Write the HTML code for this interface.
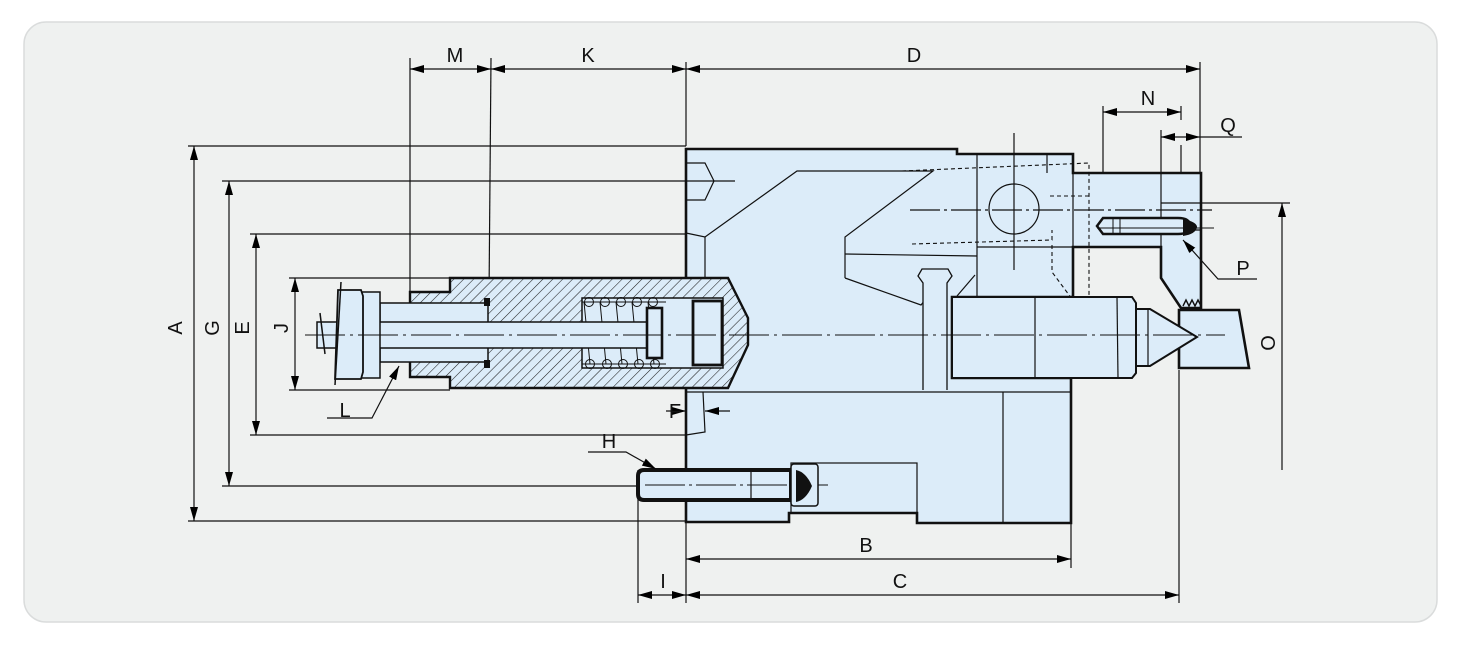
<!DOCTYPE html>
<html><head><meta charset="utf-8"><style>
html,body{margin:0;padding:0;background:#fff;}
svg{display:block;}
text{font-family:"Liberation Sans",sans-serif;font-size:20px;fill:#111;}
</style></head><body>
<svg width="1461" height="658" viewBox="0 0 1461 658" xmlns="http://www.w3.org/2000/svg">
<defs>
<marker id="ar" viewBox="0 0 14 8" refX="14" refY="4" markerWidth="14" markerHeight="8" markerUnits="userSpaceOnUse" orient="auto-start-reverse">
<path d="M0,0 L14,4 L0,8 z" fill="#000"/></marker>
<pattern id="hat" width="7" height="7" patternUnits="userSpaceOnUse" patternTransform="rotate(45)">
<rect width="7" height="7" fill="#dcecf9"/><line x1="0" y1="0" x2="0" y2="7" stroke="#222" stroke-width="1.1"/></pattern>
</defs>
<rect x="24" y="22" width="1413" height="600" rx="22" fill="#eff1f0" stroke="#dadcdc" stroke-width="1.5"/>

<g stroke="#111" stroke-width="1.2" fill="none">
<line x1="188" y1="146" x2="686" y2="146"/>
<line x1="222" y1="181" x2="735" y2="181"/>
<line x1="250" y1="234" x2="686" y2="234"/>
<line x1="289" y1="278" x2="450" y2="278"/>
<line x1="289" y1="390" x2="450" y2="390"/>
<line x1="250" y1="435" x2="686" y2="435"/>
<line x1="222" y1="486" x2="638" y2="486"/>
<line x1="188" y1="521" x2="686" y2="521"/>
<line x1="194" y1="146" x2="194" y2="521" marker-start="url(#ar)" marker-end="url(#ar)"/>
<line x1="229" y1="181" x2="229" y2="486" marker-start="url(#ar)" marker-end="url(#ar)"/>
<line x1="256" y1="234" x2="256" y2="435" marker-start="url(#ar)" marker-end="url(#ar)"/>
<line x1="295" y1="278" x2="295" y2="390" marker-start="url(#ar)" marker-end="url(#ar)"/>
<line x1="410" y1="58" x2="410" y2="292"/>
<line x1="491" y1="58" x2="489" y2="298"/>
<line x1="686" y1="62" x2="686" y2="146"/>
<line x1="1200" y1="62" x2="1200" y2="173"/>
<line x1="410" y1="69" x2="491" y2="69" marker-start="url(#ar)" marker-end="url(#ar)"/>
<line x1="491" y1="69" x2="686" y2="69" marker-start="url(#ar)" marker-end="url(#ar)"/>
<line x1="686" y1="69" x2="1200" y2="69" marker-start="url(#ar)" marker-end="url(#ar)"/>
<line x1="1103" y1="106" x2="1103" y2="225"/>
<line x1="1181" y1="106" x2="1181" y2="120"/>
<line x1="1103" y1="112" x2="1181" y2="112" marker-start="url(#ar)" marker-end="url(#ar)"/>
<line x1="1161" y1="130" x2="1161" y2="210"/>
<line x1="1181" y1="145" x2="1181" y2="245"/>
<line x1="1161" y1="137" x2="1200" y2="137" marker-start="url(#ar)" marker-end="url(#ar)"/>
<line x1="1200" y1="137" x2="1242" y2="137"/>
<line x1="1161" y1="203" x2="1290" y2="203"/>
<line x1="1282" y1="203" x2="1282" y2="470" marker-start="url(#ar)"/>
<line x1="638" y1="470" x2="638" y2="603"/>
<line x1="686" y1="522" x2="686" y2="603"/>
<line x1="1071" y1="523" x2="1071" y2="568"/>
<line x1="1179" y1="370" x2="1179" y2="603"/>
<line x1="686" y1="559" x2="1071" y2="559" marker-start="url(#ar)" marker-end="url(#ar)"/>
<line x1="686" y1="595" x2="1179" y2="595" marker-start="url(#ar)" marker-end="url(#ar)"/>
<line x1="638" y1="595" x2="686" y2="595" marker-start="url(#ar)" marker-end="url(#ar)"/>
</g>

<path d="M686,149 H957 V154 H1073 V173 H1201 V308 H1181 L1161,278 V247 H1073 V297 H952 V378 H1071 V523 H917 V513 H789 V522 H686 Z" fill="#dcecf9" stroke="#111" stroke-width="2.6"/>
<g stroke="#111" stroke-width="1.2" fill="none">
<path d="M686,163 H705 L714,181 L705,200 H686"/>
<line x1="686" y1="181" x2="735" y2="181"/>
<path d="M686,233 L705,237 L797,171 H933 L845,237 V278"/>
<line x1="705" y1="237" x2="705" y2="278"/>
<path d="M845,254 L977,256"/>
<path d="M845,278 L921,305 L925,300"/>
<path d="M957,296 L975,275"/>
<line x1="977" y1="154" x2="977" y2="297"/>
<line x1="1073" y1="173" x2="1073" y2="247"/>
<line x1="977" y1="247" x2="1073" y2="247"/>
<line x1="1047" y1="154" x2="1047" y2="173"/>
<ellipse cx="1014" cy="209" rx="25" ry="25"/>
<line x1="1014" y1="133" x2="1014" y2="270"/>
<line x1="910" y1="210" x2="1212" y2="210" stroke-dasharray="30,4,3,4"/>
<line x1="686" y1="392" x2="1071" y2="392"/>
<line x1="1003" y1="392" x2="1003" y2="523"/>
<path d="M686,435 L705,432 L703,392"/>
<line x1="1161" y1="173" x2="1161" y2="247"/>
<line x1="1161" y1="203" x2="1201" y2="203"/>
<line x1="1181" y1="230" x2="1201" y2="230"/>
<rect x="791" y="463" width="126" height="50"/>
</g>
<g stroke="#111" stroke-width="1.1" fill="none" stroke-dasharray="4,3">
<path d="M902,171 L1089,163 V297"/>
<path d="M1050,196 H1089"/>
<path d="M912,244 L1052,240 V230"/>
<path d="M1052,245 V272 L1075,303"/>
</g>

<!-- workpiece -->
<path d="M1179,310 H1239 L1249,368 H1179 Z" fill="#dcecf9" stroke="#111" stroke-width="2.6"/>
<path d="M1183,306 l3,-6 l3,6 l3,-6 l3,6 l3,-6 l3,6" stroke="#111" stroke-width="1.4" fill="none"/>
<!-- spindle / live center -->
<path d="M952,297 H1132 L1136,303 V373 L1132,378 H952 Z" fill="#dcecf9" stroke="#111" stroke-width="2"/>
<g stroke="#111" stroke-width="1.2" fill="none">
<line x1="1035" y1="297" x2="1035" y2="378"/>
<line x1="1117" y1="297" x2="1118" y2="378"/>
</g>
<path d="M1136,309 H1150 L1197,337 L1150,366 H1136 Z" fill="#dcecf9" stroke="#111" stroke-width="2"/>
<line x1="1148" y1="309" x2="1148" y2="366" stroke="#111" stroke-width="1.2"/>
<!-- key pin -->
<path d="M923,390 V283 L918,276 L922,269 H948 L952,276 L947,283 V390" fill="#dcecf9" stroke="#111" stroke-width="1.3"/>

<!-- quill hatched -->
<path d="M410,292 H450 V278 H728 L748,318 V345 L728,388 H450 V377 H410 Z" fill="url(#hat)" stroke="#111" stroke-width="2.4"/>
<rect x="380" y="303" width="108" height="59" fill="#dcecf9" stroke="#111" stroke-width="1.5"/>
<rect x="582" y="298" width="141" height="70" fill="#dcecf9" stroke="#111" stroke-width="1.5"/>
<rect x="484" y="298" width="6" height="8" fill="#111"/>
<rect x="484" y="360" width="6" height="8" fill="#111"/>
<g stroke="#111" stroke-width="1" fill="none">
<line x1="582" y1="302" x2="666" y2="302"/>
<line x1="582" y1="364" x2="666" y2="364"/>
<circle cx="589" cy="302" r="4.5"/><circle cx="605" cy="302" r="4.5"/><circle cx="621" cy="302" r="4.5"/><circle cx="637" cy="302" r="4.5"/><circle cx="653" cy="302" r="4.5"/>
<circle cx="590" cy="364" r="4.5"/><circle cx="607" cy="364" r="4.5"/><circle cx="623" cy="364" r="4.5"/><circle cx="639" cy="364" r="4.5"/><circle cx="655" cy="364" r="4.5"/>
<path d="M584,302 L590,364 M600,302 L606,364 M616,302 L622,364 M632,302 L638,364 M648,302 L654,364"/>
</g>
<rect x="317" y="322" width="330" height="26" fill="#dcecf9" stroke="#111" stroke-width="1.5"/>
<rect x="647" y="308" width="15" height="50" fill="#dcecf9" stroke="#111" stroke-width="2.6"/>
<rect x="693" y="301" width="29" height="64" fill="#dcecf9" stroke="#111" stroke-width="2.8"/>
<path d="M360,292 H380 V378 H360 Z" fill="#dcecf9" stroke="#111" stroke-width="1.5"/>
<path d="M338,290 H361 L363,296 V372 L361,379 H335 Z" fill="#dcecf9" stroke="#111" stroke-width="1.8"/>
<g stroke="#111" stroke-width="1.5">
<line x1="341" y1="282" x2="335" y2="385"/>
<line x1="320" y1="313" x2="325" y2="354"/>
</g>
<line x1="305" y1="335" x2="1225" y2="335" stroke="#111" stroke-width="1" stroke-dasharray="40,5,3,5"/>

<!-- bottom bolt -->
<path d="M644,470 H791 V500 H644 Q638,500 638,494 V476 Q638,470 644,470 Z" fill="#dcecf9" stroke="#111" stroke-width="4"/>
<line x1="751" y1="472" x2="751" y2="498" stroke="#111" stroke-width="1.2"/>
<line x1="645" y1="485" x2="828" y2="485" stroke="#111" stroke-width="1" stroke-dasharray="40,4,3,4"/>
<rect x="791" y="464" width="27" height="42" rx="3" fill="#dcecf9" stroke="#111" stroke-width="1.5"/>
<path d="M796,470 Q806,472 812,486 Q806,500 796,502 Z" fill="#111"/>
<!-- top bolt -->
<path d="M1103,218 H1178 Q1190,218 1190,226 Q1190,234 1178,234 H1103 L1097,226 Z" fill="#dcecf9" stroke="#111" stroke-width="2.5"/>
<line x1="1113" y1="218" x2="1113" y2="234" stroke="#111" stroke-width="1"/>
<line x1="1120" y1="218" x2="1120" y2="234" stroke="#111" stroke-width="1"/>
<path d="M1183,219 Q1197,222 1197,227 Q1196,234 1183,236 Z" fill="#111"/>
<line x1="1097" y1="228" x2="1214" y2="228" stroke="#111" stroke-width="1"/>

<g stroke="#111" stroke-width="1.2" fill="none">
<path d="M327,418 H372 L399,366" marker-end="url(#ar)"/>
<path d="M588,452 H626 L656,469" marker-end="url(#ar)"/>
<path d="M1257,279 H1218 L1183,240" marker-end="url(#ar)"/>
<line x1="666" y1="411" x2="686" y2="411" marker-end="url(#ar)"/>
<line x1="730" y1="411" x2="705" y2="411" marker-end="url(#ar)"/>
</g>

<text x="455" y="62" text-anchor="middle">M</text>
<text x="588" y="62" text-anchor="middle">K</text>
<text x="914" y="62" text-anchor="middle">D</text>
<text x="1148" y="105" text-anchor="middle">N</text>
<text x="1228" y="132" text-anchor="middle">Q</text>
<text x="1243" y="275" text-anchor="middle">P</text>
<text x="345" y="417" text-anchor="middle">L</text>
<text x="675" y="418" text-anchor="middle">F</text>
<text x="609" y="448" text-anchor="middle">H</text>
<text x="866" y="552" text-anchor="middle">B</text>
<text x="900" y="588" text-anchor="middle">C</text>
<text x="663" y="588" text-anchor="middle">I</text>
<text transform="translate(182,328) rotate(-90)" text-anchor="middle">A</text>
<text transform="translate(219,328) rotate(-90)" text-anchor="middle">G</text>
<text transform="translate(249,328) rotate(-90)" text-anchor="middle">E</text>
<text transform="translate(288,328) rotate(-90)" text-anchor="middle">J</text>
<text transform="translate(1275,343) rotate(-90)" text-anchor="middle">O</text>
</svg>
</body></html>
